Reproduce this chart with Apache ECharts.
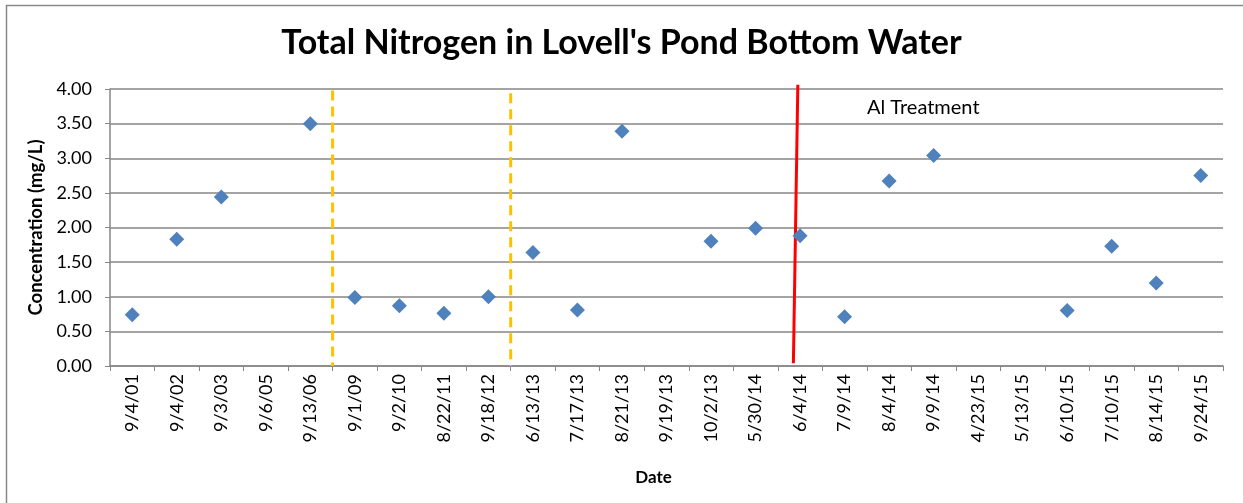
<!DOCTYPE html>
<html>
<head>
<meta charset="utf-8">
<script src="https://cdn.jsdelivr.net/npm/echarts@6/dist/echarts.min.js"></script>
<style>
html,body{margin:0;padding:0;background:#fff;}
#chart{width:1243px;height:503px;}
</style>
</head>
<body>
<div id="chart"></div>
<script>
// ---- data ----
const categories = ['9/4/01','9/4/02','9/3/03','9/6/05','9/13/06','9/1/09','9/2/10','8/22/11','9/18/12','6/13/13','7/17/13','8/21/13','9/19/13','10/2/13','5/30/14','6/4/14','7/9/14','8/4/14','9/9/14','4/23/15','5/13/15','6/10/15','7/10/15','8/14/15','9/24/15'];
const nitrogen = [0.74,1.83,2.44,null,3.50,0.99,0.87,0.76,1.00,1.64,0.81,3.39,null,1.80,1.99,1.88,0.71,2.67,3.04,null,null,0.80,1.73,1.20,2.75];
const yTicks = [0,0.5,1,1.5,2,2.5,3,3.5,4];
// period dividers, in category-boundary units
const dividerPositions = [5, 9];
// Al treatment line endpoints [categoryUnits, value]
const treatmentLine = [[15.45, 4.06], [15.35, 0.04]];
const treatmentLabel = 'Al Treatment';

const FONT = 'Lato';
const chart = echarts.init(document.getElementById('chart'));

const series = [{
  type: 'scatter',
  xAxisIndex: 0, yAxisIndex: 0,
  data: nitrogen,
  symbol: 'diamond',
  symbolSize: 15,
  itemStyle: {color: '#4F81BD', opacity: 1},
  z: 5
}];
dividerPositions.forEach(function(p, i){
  series.push({
    type: 'line', xAxisIndex: 1, yAxisIndex: 0,
    data: [[p, i === 0 ? 3.98 : 3.94], [p, 0]],
    symbol: 'none', clip: false,
    lineStyle: {color: '#FFC000', width: 3, type: [10, 6]},
    z: 3
  });
});
series.push({
  type: 'line', xAxisIndex: 1, yAxisIndex: 0,
  data: treatmentLine, symbol: 'none', clip: false,
  lineStyle: {color: '#FF0000', width: 3}, z: 4
});

chart.setOption({
  animation: false,
  textStyle: {fontFamily: FONT},
  title: [{
    text: "Total Nitrogen in Lovell's Pond Bottom Water",
    left: 'center', top: 21,
    textStyle: {fontFamily: FONT, fontWeight: 'bold', fontSize: 34, color: '#000'}
  }, {
    text: treatmentLabel,
    left: 862, top: 93,
    textStyle: {fontFamily: FONT, fontWeight: 'normal', fontSize: 20, color: '#000'}
  }],
  graphic: [{
    type: 'rect', shape: {x: 6.5, y: 5.5, width: 1300, height: 600},
    style: {fill: 'none', stroke: '#888', lineWidth: 1.5}, silent: true
  }],
  grid: {left: 110, right: 20, top: 89, bottom: 137},
  xAxis: [{
    type: 'category', data: categories,
    name: 'Date', nameLocation: 'middle', nameGap: 103,
    nameTextStyle: {fontFamily: FONT, fontWeight: 'bold', fontSize: 17, color: '#000', padding: [0, 26, 0, 0]},
    axisLine: {lineStyle: {color: '#868686', width: 1.5}},
    axisTick: {show: true, length: 5, lineStyle: {color: '#868686'}},
    axisLabel: {rotate: 90, fontSize: 18, color: '#000', margin: 8, interval: 0},
    splitLine: {show: false}
  }, {
    type: 'value', min: 0, max: categories.length, show: false
  }],
  yAxis: {
    type: 'value', min: 0, max: 4, interval: 0.5,
    name: 'Concentration (mg/L)', nameLocation: 'middle', nameGap: 58,
    nameTextStyle: {fontFamily: FONT, fontWeight: 'bold', fontSize: 18.5, color: '#000'},
    axisLine: {show: true, lineStyle: {color: '#868686', width: 1.5}},
    axisTick: {show: true, length: 5, lineStyle: {color: '#868686'}},
    axisLabel: {fontSize: 18, color: '#000', margin: 18,
      formatter: function(v){ return v.toFixed(2); }},
    splitLine: {lineStyle: {color: '#868686', width: 1.5}}
  },
  series: series
});
</script>
</body>
</html>
